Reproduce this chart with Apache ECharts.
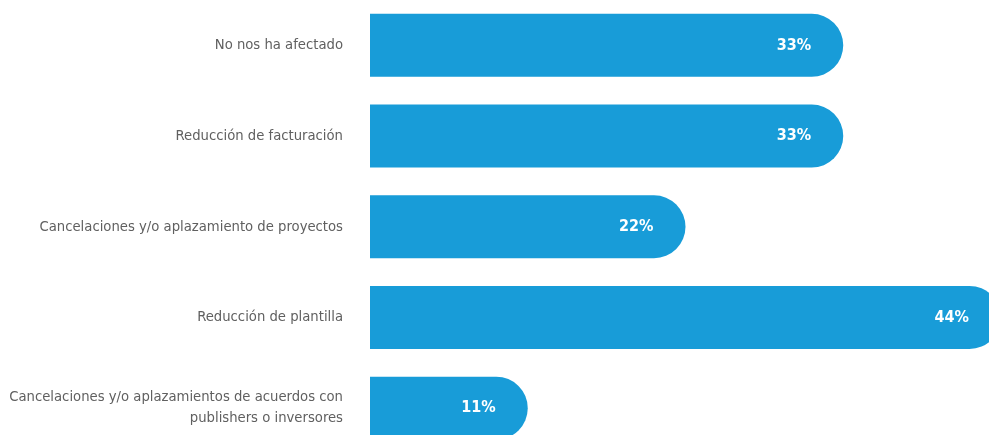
<!DOCTYPE html>
<html>
<head>
<meta charset="utf-8">
<script src="https://cdn.jsdelivr.net/npm/echarts@6/dist/echarts.min.js"></script>
<style>
  html, body { margin: 0; padding: 0; background: #fff; }
  #grid { width: 989px; height: 435px; }
</style>
</head>
<body>
<div id="grid"></div>
<script>
const categories = [
  'No nos ha afectado',
  'Reducción de facturación',
  'Cancelaciones y/o aplazamiento de proyectos',
  'Reducción de plantilla',
  'Cancelaciones y/o aplazamientos de acuerdos con\npublishers o inversores',
];
const values = [33, 33, 22, 44, 11];

const myChart = echarts.init(document.getElementById('grid'));

const option = {
  animation: false,
  grid: {
    left: 370,
    top: 0,
    width: 631,
    height: 453.5,
    outerBoundsMode: 'none',
    containLabel: false,
  },
  xAxis: {
    type: 'value',
    min: 0,
    max: 44,
    show: false,
  },
  yAxis: {
    type: 'category',
    data: categories,
    inverse: true,
    axisLine: { show: false },
    axisTick: { show: false },
    axisLabel: {
      margin: 27,
      color: '#606060',
      fontFamily: 'DejaVu Sans Condensed',
      fontSize: 14.7,
      lineHeight: 21,
      align: 'right',
    },
  },
  series: [
    {
      type: 'bar',
      data: values,
      barWidth: 63,
      clip: false,
      itemStyle: {
        color: '#189cd8',
        borderRadius: [0, 32, 32, 0],
      },
      label: {
        show: true,
        position: 'insideRight',
        distance: 32,
        color: '#fff',
        fontFamily: 'DejaVu Sans Condensed',
        fontWeight: 'bold',
        fontSize: 16,
        formatter: (p) => p.value + '%',
      },
    },
  ],
};

myChart.setOption(option);
</script>
</body>
</html>
